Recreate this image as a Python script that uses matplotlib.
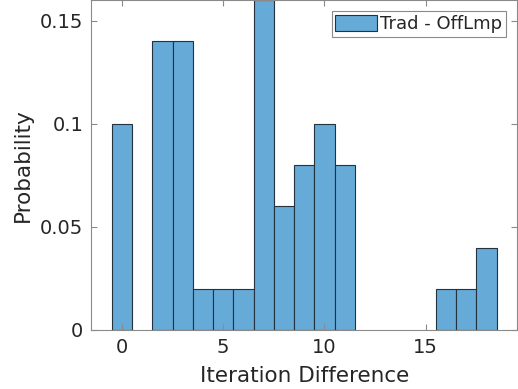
import matplotlib.pyplot as plt
from matplotlib.ticker import FixedLocator, FixedFormatter

# Histogram bins (iteration difference) and probabilities
iter_diff = [0, 1, 2, 3, 4, 5, 6, 7, 8, 9, 10, 11, 12, 13, 14, 15, 16, 17, 18]
probability = [0.10, 0.0, 0.14, 0.14, 0.02, 0.02, 0.02, 0.16, 0.06, 0.08,
               0.10, 0.08, 0.0, 0.0, 0.0, 0.0, 0.02, 0.02, 0.04]
series_label = "Trad - OffLmp"

x_ticks = [0, 5, 10, 15]
y_ticks = [0, 0.05, 0.1, 0.15]
y_tick_labels = ["0", "0.05", "0.1", "0.15"]

FACE = "#66aad7"
EDGE = "#24323f"
AXIS_GRAY = "#8a8a8a"
TEXT = "#262626"

plt.rcParams["font.family"] = "DejaVu Sans"

fig = plt.figure(figsize=(5.18, 3.89), dpi=100)
ax = fig.add_axes([0.1766, 0.1517, 0.8214, 0.848])

nz = [(x, p) for x, p in zip(iter_diff, probability) if p > 0]
ax.bar([x for x, _ in nz], [p for _, p in nz], width=1.0, color=FACE,
       edgecolor=EDGE, linewidth=0.8, label=series_label)

ax.set_xlim(-1.5, 19.5)
ax.set_ylim(0, 0.16)
ax.xaxis.set_major_locator(FixedLocator(x_ticks))
ax.yaxis.set_major_locator(FixedLocator(y_ticks))
ax.yaxis.set_major_formatter(FixedFormatter(y_tick_labels))

for s in ax.spines.values():
    s.set_color(AXIS_GRAY)
    s.set_linewidth(0.8)
ax.tick_params(direction="in", length=4, width=0.8, color=AXIS_GRAY,
               labelcolor=TEXT, labelsize=14, top=True, right=True, pad=6)

ax.set_xlabel("Iteration Difference", fontsize=15.5, color=TEXT, labelpad=6)
ax.set_ylabel("Probability", fontsize=15.5, color=TEXT, labelpad=5)

leg = ax.legend(loc="upper right", fontsize=13, fancybox=False, framealpha=1,
                borderpad=0.2, handlelength=2.3, handleheight=1.05,
                handletextpad=0.2, borderaxespad=0.6)
leg.get_frame().set_edgecolor(AXIS_GRAY)
leg.get_frame().set_linewidth(0.8)
for t in leg.get_texts():
    t.set_color(TEXT)

fig.savefig("out.png", dpi=100)
